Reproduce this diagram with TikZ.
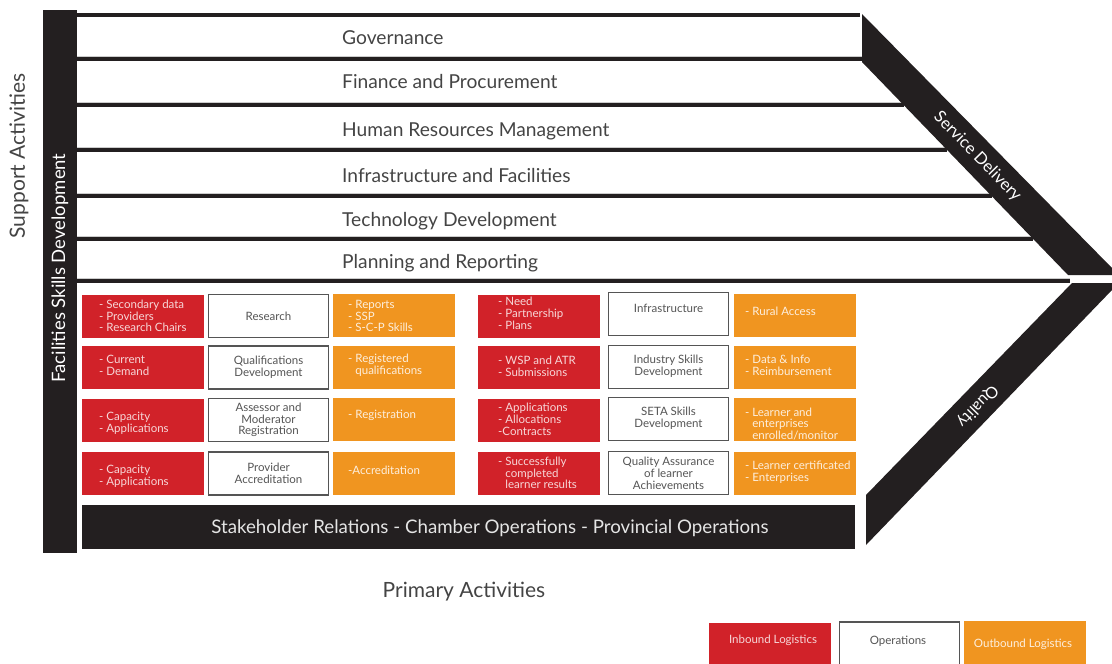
\documentclass[tikz,border=0pt]{standalone}
\usepackage{fontspec}
\setmainfont{Lato}
\usetikzlibrary{positioning}

\definecolor{inred}{HTML}{D12229}
\definecolor{outorange}{HTML}{F09520}
\definecolor{barblack}{HTML}{231F20}
\definecolor{labelgray}{HTML}{444444}
\definecolor{opgray}{HTML}{555555}

\newcommand{\boxfont}{\fontsize{11.5}{11.8}\selectfont}
\newcommand{\rowfont}{\fontsize{19.2}{20}\selectfont}

\tikzset{
  rowline/.style={barblack, line width=4pt},
  rowedge/.style={gray!40, line width=0.8pt},
  rowlabel/.style={anchor=base west, inner sep=0pt, text=labelgray, font=\rowfont},
  inbox/.style={fill=inred, minimum width=122pt, minimum height=43pt, inner sep=0pt},
  outbox/.style={fill=outorange, minimum width=122pt, minimum height=43pt, inner sep=0pt},
  opbox/.style={draw=opgray, line width=1.3pt, fill=white, minimum width=120pt, minimum height=43pt,
    inner sep=0pt, align=center, text=opgray, font=\boxfont},
  intext/.style={anchor=west, inner sep=0pt, align=left, text=inred!18, font=\boxfont},
  outtext/.style={anchor=west, inner sep=0pt, align=left, text=outorange!15, font=\boxfont},
}

\begin{document}
\begin{tikzpicture}[x=1pt,y=-1pt]
\useasboundingbox (0,0) rectangle (1112,664);

% support rows
\draw [rowline] (77,15) -- (860,15);
\draw [rowedge] (77,56.5) -- (862,56.5);
\draw [rowline] (77,59) -- (862,59);
\draw [rowedge] (77,102.5) -- (904,102.5);
\draw [rowline] (77,105) -- (904,105);
\draw [rowedge] (77,147.5) -- (947,147.5);
\draw [rowline] (77,150) -- (947,150);
\draw [rowedge] (77,193.5) -- (992,193.5);
\draw [rowline] (77,196) -- (992,196);
\draw [rowedge] (77,236.5) -- (1033,236.5);
\draw [rowline] (77,239) -- (1033,239);
\draw [rowedge] (77,278.5) -- (1070,278.5);
\draw [rowline] (77,281) -- (1070,281);

\node [rowlabel] (gov) at (342,44) {Governance};
\node [rowlabel] (fin) at (342,88.5) {Finance and Procurement};
\node [rowlabel] (hrm) at (342,136) {Human Resources Management};
\node [rowlabel] (infra) at (342,182.5) {Infrastructure and Facilities};
\node [rowlabel] (tech) at (342,226.5) {Technology Development};
\node [rowlabel] (plan) at (342,268) {Planning and Reporting};

% margin chevron
\fill [barblack] (862,14) -- (1112,268) -- (1112,275) -- (1068,275) -- (862,62) -- cycle;
\fill [barblack] (1072,283) -- (1112,283) -- (1112,290) -- (866,545) -- (866,495) -- cycle;
\node [rotate=-45.7, text=white, font=\fontsize{16.5}{17}\selectfont] (service) at (977.5,156.5) {Service Delivery};
\node [rotate=-134.2, text=white, font=\fontsize{16}{17}\selectfont] (quality) at (977.5,406) {Quality};

% left bar
\fill [barblack] (43,10) rectangle (77,553);
\node [rotate=90, text=white, font=\fontsize{18.5}{19}\selectfont] (facil) at (60,268) {Facilities Skills Development};
\node [rotate=90, text=labelgray, font=\fontsize{21}{22}\selectfont] (support) at (19,156) {Support Activities};

% primary activities, first block
\node [inbox] (in1) at (143,316.5) {};
\node [inbox] (in2) at (143,367.5) {};
\node [inbox] (in3) at (143,420.5) {};
\node [inbox] (in4) at (143,473.5) {};
\node [intext] (in1t) at (99,316) {- Secondary data\\- Providers\\- Research Chairs};
\node [intext] (in2t) at (99,365) {- Current\\- Demand};
\node [intext] (in3t) at (99,423.5) {- Capacity\\- Applications};
\node [intext] (in4t) at (99,476) {- Capacity\\- Applications};

\node [opbox] (op1) at (268.5,316) {Research};
\node [opbox] (op2) at (268.5,367.5) {Qualifications\\Development};
\node [opbox] (op3) at (268.5,420) {Assessor and\\Moderator\\Registration};
\node [opbox] (op4) at (268.5,473.5) {Provider\\Accreditation};

\node [outbox] (out1) at (394,315.5) {};
\node [outbox] (out2) at (394,367) {};
\node [outbox] (out3) at (394,419.5) {};
\node [outbox] (out4) at (394,473.5) {};
\node [outtext] (out1t) at (348,316) {- Reports\\- SSP\\- S-C-P Skills};
\node [outtext] (out2t) at (348,365) {- Registered\\\hphantom{- }qualifications};
\node [outtext] (out3t) at (348,415) {- Registration};
\node [outtext] (out4t) at (348,470) {-Accreditation};

% primary activities, second block
\node [inbox] (in5) at (539,316.5) {};
\node [inbox] (in6) at (539,367.5) {};
\node [inbox] (in7) at (539,420.5) {};
\node [inbox] (in8) at (539,473.5) {};
\node [intext] (in5t) at (498,313.5) {- Need\\- Partnership\\- Plans};
\node [intext] (in6t) at (498,366.5) {- WSP and ATR\\- Submissions};
\node [intext] (in7t) at (498,419.5) {- Applications\\- Allocations\\-Contracts};
\node [intext] (in8t) at (498,473) {- Successfully\\\hphantom{- }completed\\\hphantom{- }learner results};

\node [opbox] (op5) at (668.5,314) {};
\node [opbox] (op6) at (668.5,367) {};
\node [opbox] (op7) at (668.5,419) {};
\node [opbox] (op8) at (668.5,473) {};
\node [text=opgray, font=\boxfont, inner sep=0pt] (op5t) at (668.5,308) {Infrastructure};
\node [text=opgray, font=\boxfont, inner sep=0pt, align=center] (op6t) at (668.5,366.5) {Industry Skills\\Development};
\node [text=opgray, font=\boxfont, inner sep=0pt, align=center] (op7t) at (668.5,418) {SETA Skills\\Development};
\node [text=opgray, font=\boxfont, inner sep=0pt, align=center] (op8t) at (668.5,473.5) {Quality Assurance\\of learner\\Achievements};

\node [outbox] (out5) at (795,315.5) {};
\node [outbox] (out6) at (795,367) {};
\node [outbox] (out7) at (795,419) {};
\node [outbox] (out8) at (795,473.5) {};
\node [outtext] (out5t) at (745,311) {- Rural Access};
\node [outtext] (out6t) at (745,365) {- Data \& Info\\- Reimbursement};
\node [outtext] (out7t) at (745,424) {- Learner and\\\hphantom{- }enterprises\\\hphantom{- }enrolled/monitor};
\node [outtext] (out8t) at (745,472) {- Learner certificated\\- Enterprises};

% stakeholder bar
\node [fill=barblack, minimum width=773pt, minimum height=44pt, inner sep=0pt] (stake) at (468.5,527) {};
\node [anchor=base, text=white!90!black, font=\fontsize{18.7}{20}\selectfont, inner sep=0pt] (staket) at (490,533) {Stakeholder Relations - Chamber Operations - Provincial Operations};

\node [anchor=base, text=labelgray, font=\fontsize{21}{22}\selectfont, inner sep=0pt] (primary) at (464,597) {Primary Activities};

% key
\node [fill=inred, minimum width=122pt, minimum height=41pt, inner sep=0pt] (keyin) at (770,643.5) {};
\node [text=inred!18, font=\boxfont, inner sep=0pt] (keyint) at (773,640) {Inbound Logistics};
\node [draw=opgray, line width=1.3pt, fill=white, minimum width=120pt, minimum height=44pt, inner sep=0pt] (keyop) at (899.5,644) {};
\node [text=opgray, font=\boxfont, inner sep=0pt] (keyopt) at (898,641) {Operations};
\node [fill=outorange, minimum width=122pt, minimum height=43pt, inner sep=0pt] (keyout) at (1025,642.5) {};
\node [text=outorange!15, font=\boxfont, inner sep=0pt] (keyoutt) at (1023,644) {Outbound Logistics};
\end{tikzpicture}
\end{document}
